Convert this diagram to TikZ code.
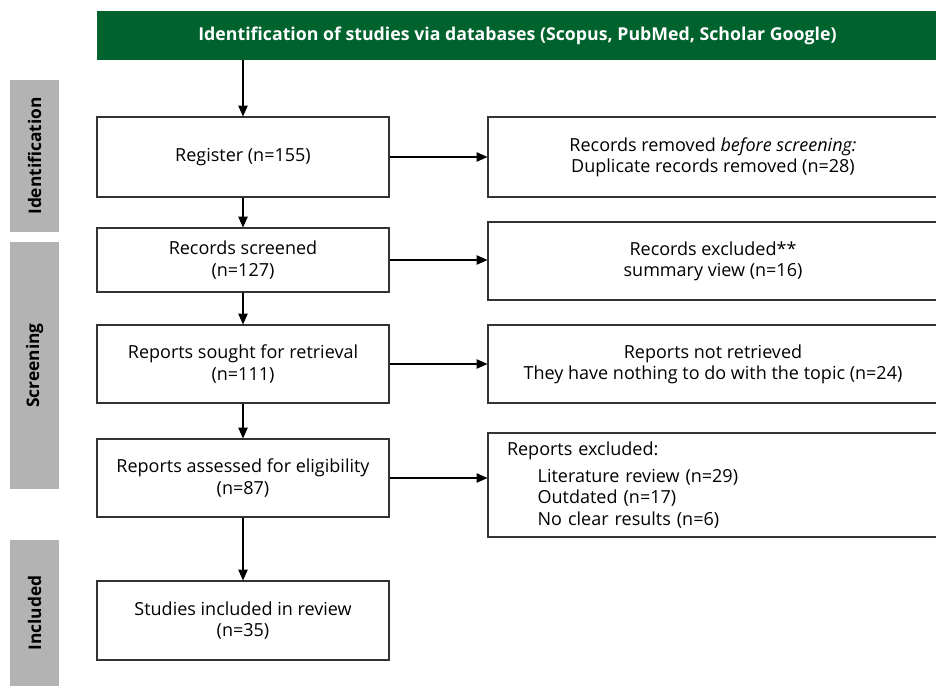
\documentclass[tikz,border=0pt]{standalone}
\usepackage{fontspec}
\setmainfont{Open Sans}
\usepackage{xcolor}
\usetikzlibrary{arrows.meta, positioning}
\definecolor{prismagreen}{RGB}{0,98,45}
\definecolor{sidegray}{RGB}{179,179,179}
\tikzset{box/.style={draw=black!80, line width=0.9pt, fill=white, inner sep=0pt, align=center, minimum width=219pt}}
\tikzset{rbox/.style={box, minimum width=337.5pt}}
\tikzset{sidebar/.style={fill=sidegray, inner sep=0pt, minimum height=36.75pt, rotate=90, font=\fontsize{13}{15}\selectfont\bfseries}}
\tikzset{flow/.style={color=black, line width=0.8pt, -{Triangle[length=8pt, width=7pt]}}}

\begin{document}
\begin{tikzpicture}[x=0.75pt, y=-0.75pt, every node/.style={font=\fontsize{13.5}{16}\selectfont}]
        \useasboundingbox (0, 0) rectangle (936, 688);

        \node[fill=prismagreen, text=white, inner sep=0pt, minimum width=630.75pt, minimum height=36.75pt, font=\fontsize{13.3}{15}\selectfont\bfseries] (Nhead) at (517.5, 35.5)
        {Identification of studies via databases (Scopus, PubMed, Scholar Google)};

        \node[sidebar, minimum width=114pt] (Lid) at (34.5, 156) {Identification};
        \node[sidebar, minimum width=185.25pt] (Lscr) at (34.5, 365.5) {Screening};
        \node[sidebar, minimum width=109.5pt] (Linc) at (34.5, 613) {Included};

        \node[box, minimum height=60pt] (Nreg) at (243, 157) {Register (n=155)};
        \node[box, minimum height=48pt] (Nscr) at (243, 260) {Records screened\\(n=127)};
        \node[box, minimum height=58.5pt] (Nret) at (243, 364) {Reports sought for retrieval\\(n=111)};
        \node[box, minimum height=58.5pt] (Nelig) at (243, 478) {Reports assessed for eligibility\\(n=87)};
        \node[box, minimum height=59.25pt] (Nincl) at (243, 620.5) {Studies included in review\\(n=35)};

        \node[rbox, minimum height=60pt] (Nrem) at (713, 157)
        {Records removed \emph{before screening:}\\Duplicate records removed (n=28)};
        \node[rbox, minimum height=58.5pt] (Nexc) at (713, 261)
        {Records excluded**\\summary view (n=16)};
        \node[rbox, minimum height=58.5pt] (Nnot) at (713, 364)
        {Reports not retrieved\\They have nothing to do with the topic (n=24)};
        \node[rbox, minimum height=78pt, align=left, inner xsep=14.25pt, text width=309pt] (Nout) at (713, 485)
        {Reports excluded:\\[4pt]
        \hspace*{23pt}Literature review (n=29)\\
        \hspace*{23pt}Outdated (n=17)\\
        \hspace*{23pt}No clear results (n=6)};

        \draw [flow] (Nhead.south -| Nreg) -- (Nreg);
        \draw [flow] (Nreg) -- (Nscr);
        \draw [flow] (Nscr) -- (Nret);
        \draw [flow] (Nret) -- (Nelig);
        \draw [flow] (Nelig) -- (Nincl);
        \draw [flow] (Nreg) -- (Nreg -| Nrem.west);
        \draw [flow] (Nscr) -- (Nscr -| Nexc.west);
        \draw [flow] (Nret) -- (Nret -| Nnot.west);
        \draw [flow] (Nelig) -- (Nelig -| Nout.west);
    \end{tikzpicture}
\end{document}
